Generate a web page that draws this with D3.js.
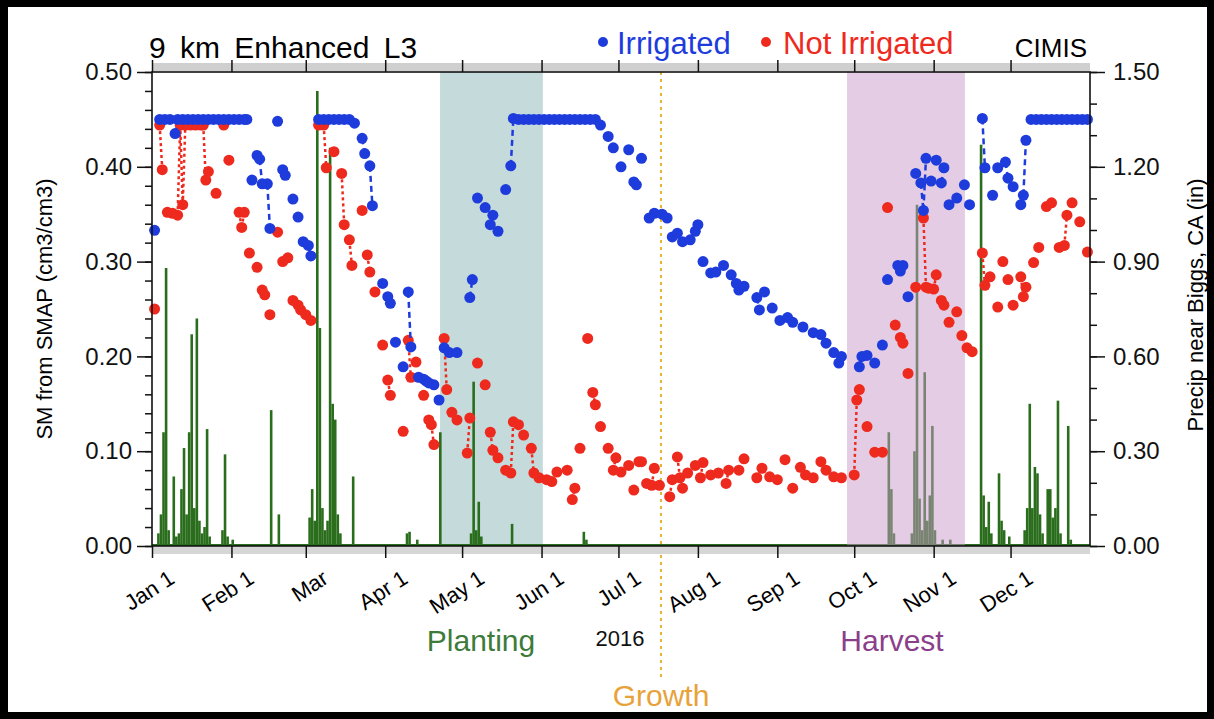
<!DOCTYPE html>
<html lang="en">
<head>
<meta charset="utf-8" />
<title>SMAP soil moisture 2016</title>
<script src="https://cdnjs.cloudflare.com/ajax/libs/d3/7.8.5/d3.min.js"></script>
<style>
  body { margin: 0; background: #000; }
  text { font-family: "Liberation Sans", Arial, sans-serif; }
</style>
</head>
<body>
<div id="chart"></div>
<script>
// ---- data: [day of year (0 = Jan 1 2016), value] ----
const irrigated = [[1,.333],[3,.45],[5,.45],[7,.45],[9,.435],[10,.45],[12,.45],[14,.45],[16,.45],[18,.45],[20,.45],[22,.45],[24,.45],
  [26,.45],[28,.45],[30,.45],[32,.45],[34,.45],[36,.45],[37,.45],[39,.386],[41,.412],[42,.408],[43,.382],[45,.382],[46,.335],[49,.448],
  [51,.397],[52,.391],[55,.366],[57,.347],[59,.321],[61,.317],[62,.306],
  [65,.45],[67,.45],[69,.45],[71,.45],[73,.45],[75,.45],[77,.45],[79,.446],[82,.430],[83,.414],[85,.401],[86,.359],[90,.277],[92,.263],
  [93,.256],[95,.215],[98,.189],[100,.268],[101,.21],[104,.178],[106,.176],[107,.174],[108,.172],[110,.170],[112,.154],[114,.209],
  [116,.204],[119,.204],[124,.262],[125,.281],[127,.367],[130,.357],[132,.339],[133,.349],[135,.332],[138,.376],[140,.401],
  [141,.451],[143,.45],[145,.45],[147,.45],[149,.45],[151,.45],[153,.45],[155,.45],[157,.45],[159,.45],[161,.45],[163,.45],[165,.45],
  [167,.45],[169,.45],[171,.45],[173,.45],[175,.444],[178,.432],[180,.42],[183,.40],[186,.418],[188,.384],[189,.381],[191,.409],
  [194,.346],[196,.351],[199,.350],[201,.346],[203,.326],[205,.330],[207,.321],[210,.323],[212,.332],[213,.339],
  [215,.300],[218,.288],[220,.289],[223,.296],[226,.286],[228,.277],[229,.270],[231,.274],[236,.262],[237,.249],[239,.268],[242,.251],
  [245,.238],[248,.241],[250,.236],[254,.231],[258,.225],[261,.223],[263,.214],[266,.204],[268,.193],[269,.200],[276,.189],[277,.200],
  [279,.201],[282,.193],[285,.212],[287,.281],[291,.296],[292,.290],[293,.296],[295,.263],
  [298,.393],[300,.383],[301,.354],[302,.409],[304,.385],[306,.407],[308,.383],[309,.399],[311,.36],[314,.367],[317,.381],[319,.36],
  [324,.451],[325,.399],[328,.37],[330,.399],[333,.405],[334,.388],[336,.379],[339,.36],[340,.37],[341,.428],[343,.45],[345,.45],
  [347,.45],[349,.45],[351,.45],[353,.45],[355,.45],[357,.45],[359,.45],[361,.45],[363,.45],[365,.45]];

const notIrrigated = [[1,.25],[3,.444],[4,.397],[6,.352],[8,.351],[10,.349],[11,.444],[12,.36],[13,.444],[15,.444],[17,.444],[19,.444],
  [20,.444],[21,.386],[22,.395],[25,.372],[28,.444],[30,.407],[34,.352],[35,.336],[36,.352],[38,.309],[41,.294],[43,.27],[44,.265],
  [46,.244],[49,.331],[51,.30],[53,.304],[55,.259],[57,.254],[58,.249],[60,.244],[62,.238],
  [65,.444],[67,.444],[68,.399],[71,.416],[74,.393],[75,.339],[77,.323],[78,.296],[82,.354],[84,.307],[85,.289],[87,.268],[90,.212],
  [92,.175],[93,.159],[98,.121],[100,.217],[101,.178],[103,.194],[106,.159],[108,.133],[109,.128],[110,.107],[114,.219],[115,.165],
  [117,.141],[119,.133],[123,.098],[124,.135],[127,.193],[130,.17],[132,.12],[133,.101],[135,.093],[138,.08],[140,.077],[141,.131],
  [143,.128],[145,.117],[148,.103],[149,.077],[151,.072],[154,.07],[156,.068],[158,.078],[162,.08],[164,.049],[165,.061],[167,.103],
  [170,.219],[172,.162],[173,.149],[175,.126],[178,.103],[180,.08],[181,.093],[183,.078],[186,.085],[188,.059],[190,.089],[191,.089],
  [193,.066],[195,.064],[196,.082],[198,.064],[202,.052],[203,.07],[205,.094],[206,.072],[207,.061],[209,.077],[212,.085],[214,.072],
  [215,.088],[218,.075],[221,.077],[224,.066],[225,.08],[229,.08],[231,.092],[236,.072],[238,.082],[241,.073],[244,.07],[247,.091],
  [250,.061],[253,.083],[255,.075],[258,.072],[261,.089],[263,.08],[266,.073],[269,.072],[274,.075],[275,.154],[276,.165],[279,.126],
  [282,.099],[285,.099],[287,.357],[290,.233],[292,.22],[293,.214],[295,.182],[298,.273],[301,.346],[302,.273],[303,.272],[305,.271],
  [306,.286],[308,.259],[309,.254],[311,.236],[314,.247],[316,.222],[318,.209],[320,.205],[324,.309],[325,.275],[327,.284],[330,.252],
  [332,.30],[334,.281],[336,.254],[339,.284],[340,.263],[341,.273],[344,.299],[346,.315],[349,.358],[351,.362],[354,.315],[356,.317],
  [357,.349],[359,.362],[362,.342],[365,.31]];

const precip = [[2,.04],[3,.10],[4,.36],[5,.88],[6,.05],[8,.22],[9,.03],[10,.04],[11,.18],[12,.31],[13,.10],[14,.36],[15,.67],
  [16,.12],[17,.72],[18,.08],[19,.04],[20,.06],[21,.37],[22,.03],[27,.05],[28,.29],[29,.03],[31,.02],[46,.43],[49,.10],
  [61,.09],[62,.18],[63,.08],[64,1.44],[65,.69],[66,.12],[67,.05],[68,.08],[69,1.26],[70,.45],[71,.40],[72,.10],[73,.04],[78,.22],
  [99,.04],[100,.045],[103,.02],[112,.36],[124,.04],[125,.52],[126,.05],[127,.14],[128,.03],[140,.07],[168,.045],[169,.02],
  [287,.36],[288,.18],[289,.04],[296,.04],[297,.30],[298,1.08],[299,.15],[300,.05],[301,.55],[302,.08],[303,.16],[304,.38],
  [305,.05],[308,.02],[311,.02],[323,1.27],[324,.16],[325,.06],[326,.14],[327,.04],[330,.23],[331,.08],[332,.05],[334,.03],
  [340,.05],[341,.12],[342,.45],[343,.12],[344,.25],[345,.23],[346,.10],[347,.04],[349,.18],[350,.18],[351,.09],[352,.12],
  [353,.46],[354,.04],[357,.38],[358,.02]];

const monthLabels = ["Jan 1","Feb 1","Mar","Apr 1","May 1","Jun 1","Jul 1","Aug 1","Sep 1","Oct 1","Nov 1","Dec 1"];
const smTicks = [0, 0.1, 0.2, 0.3, 0.4, 0.5];
const precipTicks = [0, 0.3, 0.6, 0.9, 1.2, 1.5];
const planting = [112.4, 152.5];
const harvest = [271.2, 317.2];
const growthDay = 198.6;

// ---- layout ----
const W = 1214, H = 719;
const pL = 152, pR = 1090, pT = 72, pB = 546;
const start = new Date(Date.UTC(2016, 0, 1));
const end = new Date(Date.UTC(2017, 0, 1));
const day = d => new Date(start.getTime() + d * 864e5);

const x = d3.scaleUtc().domain([start, end]).range([pL, pR]);
const y = d3.scaleLinear().domain([0, 0.5]).range([pB, pT]);
const yP = d3.scaleLinear().domain([0, 1.5]).range([pB, pT]);

const svg = d3.select('#chart').append('svg')
  .attr('width', W).attr('height', H);

svg.append('rect').attr('x', 8).attr('y', 7).attr('width', 1199).attr('height', 705).attr('fill', '#fff');

// planting band sits under the rain sticks
svg.append('rect')
  .attr('x', x(day(planting[0]))).attr('y', pT)
  .attr('width', x(day(planting[1])) - x(day(planting[0]))).attr('height', pB - pT)
  .attr('fill', '#c4dadb');

// precipitation sticks
svg.append('g').selectAll('line').data(precip).join('line')
  .attr('x1', d => x(day(d[0] + 0.5))).attr('x2', d => x(day(d[0] + 0.5)))
  .attr('y1', yP(0)).attr('y2', d => yP(d[1]))
  .attr('stroke', '#2a6d1c').attr('stroke-width', 2.6);
svg.append('line').attr('x1', pL).attr('x2', pR).attr('y1', pB - 1).attr('y2', pB - 1)
  .attr('stroke', '#2a6d1c').attr('stroke-width', 2);

// harvest band overlays the sticks
svg.append('rect')
  .attr('x', x(day(harvest[0]))).attr('y', pT)
  .attr('width', x(day(harvest[1])) - x(day(harvest[0]))).attr('height', pB - pT)
  .attr('fill', '#c99bc9').attr('opacity', 0.5);

// growth line
svg.append('line')
  .attr('x1', x(day(growthDay))).attr('x2', x(day(growthDay)))
  .attr('y1', pT).attr('y2', 678)
  .attr('stroke', '#e3b631').attr('stroke-width', 2).attr('stroke-dasharray', '3,4');

// SM series: dashed link only between consecutive days
function drawSeries(pts, color, dash) {
  const segs = [];
  for (let i = 0; i < pts.length - 1; i++) {
    if (pts[i + 1][0] - pts[i][0] === 1) segs.push([pts[i], pts[i + 1]]);
  }
  svg.append('g').selectAll('line').data(segs).join('line')
    .attr('x1', d => x(day(d[0][0]))).attr('y1', d => y(d[0][1]))
    .attr('x2', d => x(day(d[1][0]))).attr('y2', d => y(d[1][1]))
    .attr('stroke', color).attr('stroke-width', 2.5).attr('stroke-dasharray', dash);
  svg.append('g').selectAll('circle').data(pts).join('circle')
    .attr('cx', d => x(day(d[0]))).attr('cy', d => y(d[1]))
    .attr('r', 5.5).attr('fill', color);
}
drawSeries(notIrrigated, '#ee2a1e', '3,3');
drawSeries(irrigated, '#1e3cdc', '6,4');

// frame + grey shadows
svg.append('rect').attr('x', pL).attr('y', pT - 9).attr('width', pR - pL).attr('height', 8).attr('fill', '#cfcfcf');
svg.append('rect').attr('x', pL).attr('y', pB + 1).attr('width', pR - pL).attr('height', 7).attr('fill', '#d6d6d6');
svg.append('rect').attr('x', pL).attr('y', pT).attr('width', pR - pL).attr('height', pB - pT)
  .attr('fill', 'none').attr('stroke', '#111').attr('stroke-width', 1.6);

// axes
const months = d3.utcMonth.range(start, end);
svg.append('g').attr('transform', `translate(0,${pB})`)
  .call(d3.axisBottom(x).tickValues(months).tickSize(12).tickFormat(''))
  .call(g => g.select('.domain').remove());
svg.append('g').attr('transform', `translate(0,${pT})`)
  .call(d3.axisTop(x).tickValues(months).tickSize(12).tickFormat(''))
  .call(g => g.select('.domain').remove());

svg.append('g').selectAll('text').data(months).join('text')
  .attr('transform', d => `translate(${x(d) + 24},${pB + 36}) rotate(-33)`)
  .attr('text-anchor', 'end')
  .attr('font-size', 22)
  .text((d, i) => monthLabels[i]);

svg.append('g').attr('transform', `translate(${pL},0)`)
  .call(d3.axisLeft(y).tickValues(d3.range(0, 0.501, 0.02)).tickSize(7).tickFormat(''))
  .call(g => g.select('.domain').remove());
svg.append('g').attr('transform', `translate(${pL},0)`)
  .call(d3.axisLeft(y).tickValues(smTicks).tickSize(15).tickPadding(5).tickFormat(d3.format('.2f')))
  .call(g => g.select('.domain').remove())
  .call(g => g.selectAll('text').attr('font-size', 24));

svg.append('g').attr('transform', `translate(${pR},0)`)
  .call(d3.axisRight(yP).tickValues(d3.range(0, 1.501, 0.1)).tickSize(7).tickFormat(''))
  .call(g => g.select('.domain').remove());
svg.append('g').attr('transform', `translate(${pR},0)`)
  .call(d3.axisRight(yP).tickValues(precipTicks).tickSize(15).tickPadding(8).tickFormat(d3.format('.2f')))
  .call(g => g.select('.domain').remove())
  .call(g => g.selectAll('text').attr('font-size', 24));

svg.selectAll('.tick line').attr('stroke', '#111').attr('stroke-width', 1.5);
svg.selectAll('.tick text').attr('fill', '#111');

// axis titles
svg.append('text').attr('transform', 'translate(52,309) rotate(-90)')
  .attr('text-anchor', 'middle').attr('font-size', 22).text('SM from SMAP (cm3/cm3)');
svg.append('text').attr('transform', 'translate(1203,305) rotate(-90)')
  .attr('text-anchor', 'middle').attr('font-size', 22).text('Precip near Biggs, CA (in)');

// top texts
svg.append('text').attr('x', 149).attr('y', 58).attr('font-size', 30).attr('word-spacing', 6).text('9 km Enhanced L3');
svg.append('circle').attr('cx', 603).attr('cy', 42).attr('r', 5).attr('fill', '#1e3cdc');
svg.append('text').attr('x', 617).attr('y', 54).attr('font-size', 31).attr('fill', '#1e3cdc').text('Irrigated');
svg.append('circle').attr('cx', 766).attr('cy', 42).attr('r', 5).attr('fill', '#ee2a1e');
svg.append('text').attr('x', 783).attr('y', 54).attr('font-size', 31).attr('fill', '#ee2a1e').text('Not Irrigated');
svg.append('text').attr('x', 1087).attr('y', 57).attr('text-anchor', 'end').attr('font-size', 26).text('CIMIS');

// phase labels
svg.append('text').attr('x', 481).attr('y', 651).attr('text-anchor', 'middle').attr('font-size', 30).attr('fill', '#3d7b3a').text('Planting');
svg.append('text').attr('x', 620).attr('y', 646).attr('text-anchor', 'middle').attr('font-size', 22).attr('fill', '#111').text('2016');
svg.append('text').attr('x', 892).attr('y', 651).attr('text-anchor', 'middle').attr('font-size', 30).attr('fill', '#8b3f8b').text('Harvest');
svg.append('text').attr('x', 661).attr('y', 706).attr('text-anchor', 'middle').attr('font-size', 30).attr('fill', '#e8a23a').text('Growth');
</script>
</body>
</html>
